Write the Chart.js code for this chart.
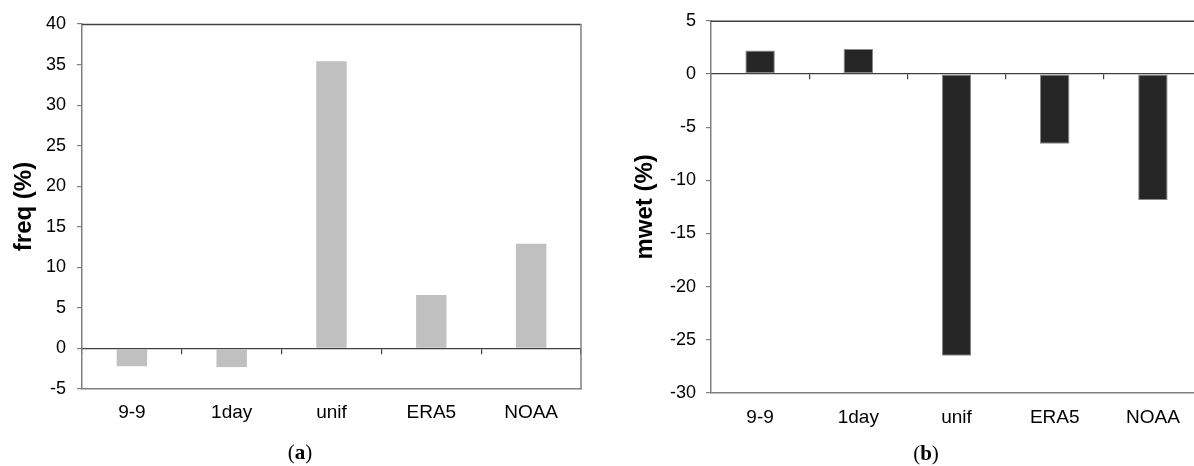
<!DOCTYPE html>
<html>
<head>
<meta charset="utf-8">
<script src="https://cdn.jsdelivr.net/npm/chart.js@4.4.1/dist/chart.umd.min.js"></script>
<style>
  html, body { margin: 0; padding: 0; background: #fff; overflow: hidden; width: 1194px; height: 466px; }
  #wrap { position: relative; width: 1194px; height: 466px; overflow: hidden; }
  canvas { position: absolute; top: 0; }
  #c1 { left: 0; }
  #c2 { left: 600px; }
  .cap { position: absolute; font-family: "Liberation Serif", "Times New Roman", serif; font-size: 21px; color: #000; transform: translate(-50%, -50%); white-space: nowrap; }
</style>
</head>
<body>
<div id="wrap">
  <canvas id="c1" width="600" height="466"></canvas>
  <canvas id="c2" width="620" height="466"></canvas>
  <div class="cap" style="left:300px; top:452px;">(<b>a</b>)</div>
  <div class="cap" style="left:926px; top:453px;">(<b>b</b>)</div>
</div>
<script>
// ---- data ----
const categories = ['9-9', '1day', 'unif', 'ERA5', 'NOAA'];
const freqValues = [-2.2, -2.3, 35.4, 6.6, 12.9];
const mwetValues = [2.2, 2.35, -26.5, -6.55, -11.85];
const freqTicks = { min: -5, max: 40, step: 5 };
const mwetTicks = { min: -30, max: 5, step: 5 };

const FONT = "'Liberation Sans', Arial, sans-serif";
const AXIS_GRAY = '#7f7f7f';
const DARK = '#404040';

const framePlugin = {
  id: 'frame',
  afterDatasetsDraw(chart) {
    const { ctx, chartArea: a } = chart;
    ctx.save();
    ctx.lineWidth = 1.5;
    ctx.strokeStyle = DARK;
    ctx.beginPath();
    ctx.moveTo(a.left, a.top + 0.5);
    ctx.lineTo(a.right, a.top + 0.5);
    ctx.stroke();
    ctx.strokeStyle = AXIS_GRAY;
    ctx.beginPath();
    ctx.moveTo(a.right, a.top);
    ctx.lineTo(a.right, a.bottom);
    ctx.stroke();
    ctx.restore();
  }
};

function makeChart(canvasId, cfg) {
  return new Chart(document.getElementById(canvasId), {
    type: 'bar',
    data: {
      labels: categories,
      datasets: [{
        data: cfg.values,
        backgroundColor: cfg.fill,
        borderColor: cfg.border,
        borderWidth: cfg.borderWidth,
        borderSkipped: false,
        barPercentage: cfg.barPct,
        categoryPercentage: 1.0
      }]
    },
    options: {
      responsive: false,
      animation: false,
      devicePixelRatio: 1,
      layout: { padding: { top: cfg.padTop, right: cfg.padRight, left: 0, bottom: 0 } },
      plugins: { legend: { display: false }, tooltip: { enabled: false } },
      scales: {
        x: {
          type: 'category',
          position: 'bottom',
          offset: true,
          grid: { display: false, drawTicks: false },
          border: { display: true, color: AXIS_GRAY, width: 1.5 },
          ticks: { color: '#000', font: { family: FONT, size: 19 }, padding: cfg.xPad, maxRotation: 0, autoSkip: false },
          afterFit(s) { s.height = cfg.xHeight; }
        },
        x2: {
          type: 'category',
          position: { y: 0 },
          offset: true,
          grid: { offset: true, drawOnChartArea: false, drawTicks: true, tickLength: 5, color: DARK, lineWidth: 1.2 },
          border: { display: true, color: DARK, width: 1.2 },
          ticks: { display: false }
        },
        y: {
          type: 'linear',
          position: 'left',
          min: cfg.ticks.min,
          max: cfg.ticks.max,
          grid: { drawOnChartArea: false, drawTicks: true, tickLength: 5, color: AXIS_GRAY, lineWidth: 1.2 },
          border: { display: true, color: AXIS_GRAY, width: 1.5 },
          ticks: { stepSize: cfg.ticks.step, color: '#000', font: { family: FONT, size: 18 }, padding: cfg.yPad },
          title: { display: true, text: cfg.title, color: '#000', font: { family: FONT, size: 24, weight: 'bold' }, padding: { top: cfg.titlePad, bottom: 0 } },
          afterFit(s) { s.width = cfg.yWidth; }
        }
      }
    },
    plugins: [framePlugin]
  });
}

makeChart('c1', {
  values: freqValues, fill: '#c0c0c0', border: '#c8c8c8', borderWidth: 0, barPct: 0.305,
  padTop: 24, padRight: 19, xHeight: 77, xPad: 12, yWidth: 82, yPad: 11, titlePad: 10,
  ticks: freqTicks, title: 'freq (%)'
});
makeChart('c2', {
  values: mwetValues, fill: '#262626', border: '#8a8a8a', borderWidth: 1, barPct: 0.3,
  padTop: 19, padRight: 18, xHeight: 73, xPad: 13, yWidth: 111, yPad: 10, titlePad: 31,
  ticks: mwetTicks, title: 'mwet (%)'
});
</script>
</body>
</html>
